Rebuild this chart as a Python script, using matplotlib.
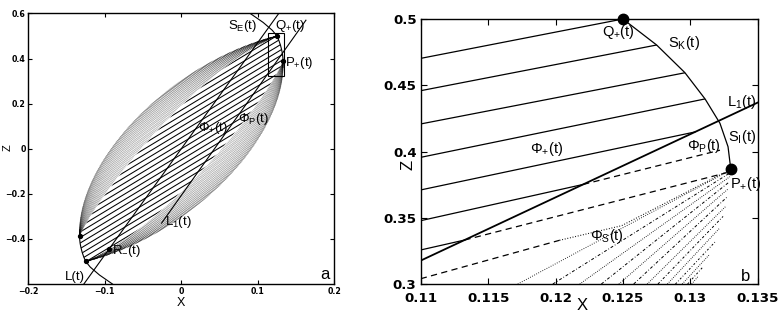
import numpy as np
import matplotlib
matplotlib.use("Agg")
import matplotlib.pyplot as plt
from matplotlib.path import Path
from matplotlib.patches import PathPatch, Rectangle

plt.rcParams['font.family'] = ['Liberation Sans', 'DejaVu Sans']
plt.rcParams['mathtext.fontset'] = 'custom'
plt.rcParams['mathtext.rm'] = 'Liberation Sans'
plt.rcParams['mathtext.it'] = 'Liberation Sans'
plt.rcParams['mathtext.default'] = 'regular'

# ---- values, (x, z) ----
q_plus = (0.125, 0.5)
p_plus = (0.133, 0.387)
r_minus = (-0.094, -0.443)

# S_E / S_K / S_I boundary, upper branch (lower branch = point reflection)
se_x = [0.090, 0.107, 0.119, 0.125, 0.1275, 0.1296, 0.1311, 0.1322, 0.1328, 0.133, 0.1327, 0.1318, 0.1303, 0.1280]
se_z = [0.600, 0.560, 0.525, 0.500, 0.4804, 0.4595, 0.4396, 0.4213, 0.4036, 0.387, 0.360, 0.330, 0.300, 0.270]

# lens edges from -P+ to Q+ (cubic Bezier control points)
outer_x = [-0.133, -0.137, -0.012, 0.125]
outer_z = [-0.387, -0.050, 0.385, 0.500]
inner_x = [-0.133, -0.108, 0.022, 0.125]
inner_z = [-0.387, -0.200, 0.355, 0.500]

# straight lines L(t), L1(t): slope and x at z = 0
l_slope, l_x0 = 4.71, 0.0
l1_slope, l1_x0 = 4.77, 0.0434
l1_zlim = (-0.33, 0.57)

# Phi_+ lines: z = slope*(x - 0.11) + z0
phi_z0 = [0.4703, 0.4459, 0.4208, 0.3956, 0.3710, 0.3478, 0.3257]
phi_slope = [1.98, 1.97, 1.97, 2.09, 2.15, 2.27, 2.30]
hatch_slope = 2.05
hatch_step = 0.0245
n_hatch = 21

# Phi_P dashed continuations (of lines 6 and 7) end points
php_end_x = [0.1322, 0.1327]
php_end_z = [0.401, 0.384]
# third line, dashed then dotted
third_x = [0.110, 0.1203, 0.1249, 0.1327]
third_z = [0.304, 0.333, 0.344, 0.385]

# Phi_S fan: x where each line leaves the bottom edge, z where it meets the envelope
fan_x0 = [0.1172, 0.1198, 0.1218, 0.1234, 0.1247, 0.1258, 0.1268, 0.1276, 0.1283,
          0.1289, 0.1294, 0.1298, 0.1301]
fan_z1 = [0.386, 0.384, 0.381, 0.377, 0.372, 0.366, 0.359, 0.351, 0.342, 0.332,
          0.322, 0.313, 0.306]

# zoom box of panel b drawn in panel a
box_x = (0.1137, 0.1346)
box_z = (0.322, 0.511)


def bezier(cx, cz, n=150):
    t = np.linspace(0, 1, n)
    w = np.array([(1 - t) ** 3, 3 * (1 - t) ** 2 * t, 3 * (1 - t) * t ** 2, t ** 3])
    return np.dot(cx, w), np.dot(cz, w)


def style_axes(ax, size, length):
    ax.tick_params(direction='in', top=True, right=True, length=length, width=0.8,
                   labelsize=size, pad=2)
    for lab in ax.get_xticklabels() + ax.get_yticklabels():
        lab.set_fontweight('bold')
        lab.set_family('DejaVu Sans')
    for s in ax.spines.values():
        s.set_linewidth(1.0)


fig = plt.figure(figsize=(7.8, 3.26), dpi=100)
axa = fig.add_axes([0.0363, 0.1288, 0.3923, 0.830])
axb = fig.add_axes([0.5394, 0.1288, 0.432, 0.8129])

se_x = np.array(se_x)
se_z = np.array(se_z)
seg = (se_z <= 0.5) & (se_z >= 0.387)

# ================= panel a =================
ax = axa
ix, iz = bezier(inner_x, inner_z)

# region of the Phi_+ hatching
px = np.concatenate([ix, se_x[seg], -ix, -se_x[seg]])
pz = np.concatenate([iz, se_z[seg], -iz, -se_z[seg]])
clip_a = PathPatch(Path(np.column_stack([px, pz])), transform=ax.transData,
                   fc='none', ec='none')
ax.add_patch(clip_a)

hx = np.array([-0.2, 0.2])
for k in range(n_hatch):
    z0 = phi_z0[0] - k * hatch_step
    ln, = ax.plot(hx, hatch_slope * (hx - 0.11) + z0, color='k', lw=0.75)
    ln.set_clip_path(clip_a)

# stippled bands between inner and outer edges
n_st = 30
for k in range(n_st):
    f = 1 - (k / n_st) ** 1.3
    cx = (1 - f) * np.array(inner_x) + f * np.array(outer_x)
    cz = (1 - f) * np.array(inner_z) + f * np.array(outer_z)
    bx, bz = bezier(cx, cz, 300)
    for sgn in (1, -1):
        ax.plot(sgn * bx, sgn * bz, color='k', lw=0.5,
                ls=((k * 0.55) % 1.8, (0.4, 1.4)))

# S_E boundary
top = se_z >= 0.36
ax.plot(se_x[top], se_z[top], color='k', lw=0.8)
ax.plot(-se_x[top], -se_z[top], color='k', lw=0.8)

# L(t) and L1(t)
zz = np.array([-0.6, 0.6])
ax.plot(l_x0 + zz / l_slope, zz, color='k', lw=0.8)
zz1 = np.array(l1_zlim)
ax.plot(l1_x0 + zz1 / l1_slope, zz1, color='k', lw=0.8)

ax.add_patch(Rectangle((box_x[0], box_z[0]), box_x[1] - box_x[0], box_z[1] - box_z[0],
                       fill=False, ec='k', lw=0.8))

dots_x = [q_plus[0], p_plus[0], -p_plus[0], -q_plus[0], r_minus[0]]
dots_z = [q_plus[1], p_plus[1], -p_plus[1], -q_plus[1], r_minus[1]]
ax.plot(dots_x, dots_z, 'o', color='k', ms=2.8, ls='none')

fs = 9.5
ax.text(0.061, 0.545, r'$S_E(t)$', fontsize=fs, va='center')
ax.text(0.122, 0.545, r'$Q_{{+}}(t)$', fontsize=fs, va='center')
ax.text(0.1355, 0.378, r'$P_{{+}}(t)$', fontsize=fs, va='center')
ax.text(0.0223, 0.09, r'$\Phi_{{+}}(t)$', fontsize=fs, va='center')
ax.text(0.0745, 0.131, r'$\Phi_P(t)$', fontsize=fs, va='center')
ax.text(-0.0213, -0.326, r'$L_1(t)$', fontsize=fs, va='center')
ax.text(-0.091, -0.452, r'$R_{{-}}(t)$', fontsize=fs, va='center')
ax.text(-0.152, -0.567, 'L(t)', fontsize=fs, va='center')
ax.text(0.181, -0.56, 'a', fontsize=12, va='center')

ax.set_xlim(-0.2, 0.2)
ax.set_ylim(-0.6, 0.6)
ax.set_xticks([-0.2, -0.1, 0, 0.1, 0.2])
ax.set_xticklabels(['\u22120.2', '\u22120.1', '0', '0.1', '0.2'])
ax.set_yticks([-0.4, -0.2, 0, 0.2, 0.4, 0.6])
ax.set_yticklabels(['\u22120.4', '\u22120.2', '0', '0.2', '0.4', '0.6'])
style_axes(ax, 5.7, 3)
fig.text(181 / 780, 1 - 303 / 326, 'X', fontsize=9, ha='center', va='center')
fig.text(7.5 / 780, 1 - 148 / 326, 'Z', fontsize=8, ha='center', va='center', rotation=90)

# ================= panel b =================
ax = axb
# inside of the S boundary
sx = np.concatenate([se_x, [0.10, 0.10]])
sz = np.concatenate([se_z, [0.27, 0.60]])
clip_b = PathPatch(Path(np.column_stack([sx, sz])), transform=ax.transData,
                   fc='none', ec='none')
ax.add_patch(clip_b)

cross_x, cross_z = [], []
for z0, s in zip(phi_z0, phi_slope):
    xl = (z0 - s * 0.11 + l1_slope * l1_x0) / (l1_slope - s)
    xe = np.array([0.105, xl])
    ln, = ax.plot(xe, s * (xe - 0.11) + z0, color='k', lw=0.9)
    ln.set_clip_path(clip_b)
    cross_x.append(xl)
    cross_z.append(s * (xl - 0.11) + z0)

# Phi_P dashed continuations of the two lowest solid lines
for k in range(2):
    ax.plot([cross_x[5 + k], php_end_x[k]], [cross_z[5 + k], php_end_z[k]],
            color='k', lw=0.9, ls=(0, (5, 3.5)))
ax.plot(third_x[:2], third_z[:2], color='k', lw=0.9, ls=(0, (5, 3.5)))
ax.plot(third_x[1:], third_z[1:], color='k', lw=0.8, ls=(0, (0.8, 1.6)))

# Phi_S fan converging to the envelope below P+
env_z = se_z[::-1]
env_x = se_x[::-1]
fan_styles = [(0, (0.8, 1.6)), (0, (3, 2, 0.8, 2)), (0, (0.8, 1.4)), (0, (3, 2, 0.8, 2)),
              (0, (0.8, 1.4)), (0, (3, 2, 0.8, 2)), (0, (0.8, 1.4)), (0, (2.5, 2, 0.8, 2)),
              (0, (0.8, 1.4)), (0, (2, 2, 0.8, 2)), (0, (0.8, 1.4)), (0, (2, 2, 0.8, 2)),
              (0, (0.8, 1.4))]
for x0, z1, ls in zip(fan_x0, fan_z1, fan_styles):
    x1 = np.interp(z1, env_z, env_x)
    ax.plot([x0, x1], [0.30, z1], color='k', lw=0.7, ls=ls)

# S_K / S_I boundary between Q+ and P+
ax.plot(se_x[seg], se_z[seg], color='k', lw=0.9)

# L1(t)
xb = np.array([0.11, 0.135])
ax.plot(xb, l1_slope * (xb - l1_x0), color='k', lw=1.3)

ax.plot([q_plus[0], p_plus[0]], [q_plus[1], p_plus[1]], 'o', color='k', ms=7.5,
        ls='none', clip_on=False, zorder=5)

fs = 10.5
ax.text(0.12343, 0.49, r'$Q_{{+}}(t)$', fontsize=fs, va='center')
ax.text(0.12837, 0.4817, r'$S_K(t)$', fontsize=fs, va='center')
ax.text(0.1327, 0.437, r'$L_1(t)$', fontsize=fs, va='center')
ax.text(0.13282, 0.4112, r'$S_I(t)$', fontsize=fs, va='center')
ax.text(0.12973, 0.4044, r'$\Phi_P(t)$', fontsize=fs, va='center')
ax.text(0.11811, 0.4019, r'$\Phi_{{+}}(t)$', fontsize=fs, va='center')
ax.text(0.13295, 0.3755, r'$P_{{+}}(t)$', fontsize=fs, va='center')
ax.text(0.12257, 0.3364, r'$\Phi_S(t)$', fontsize=fs, va='center')
ax.text(0.13374, 0.3055, 'b', fontsize=12, va='center')

ax.set_xlim(0.11, 0.135)
ax.set_ylim(0.3, 0.5)
ax.set_xticks([0.11, 0.115, 0.12, 0.125, 0.13, 0.135])
ax.set_xticklabels(['0.11', '0.115', '0.12', '0.125', '0.13', '0.135'])
ax.set_yticks([0.3, 0.35, 0.4, 0.45, 0.5])
ax.set_yticklabels(['0.3', '0.35', '0.4', '0.45', '0.5'])
style_axes(ax, 9.6, 4)
ax.tick_params(axis='x', pad=5.5)
ax.tick_params(axis='y', pad=3)
fig.text(582 / 780, 1 - 306 / 326, 'X', fontsize=12, ha='center', va='center')
fig.text(408 / 780, 1 - 165 / 326, 'Z', fontsize=12, ha='center', va='center', rotation=90)

fig.savefig('out.png', dpi=100)
